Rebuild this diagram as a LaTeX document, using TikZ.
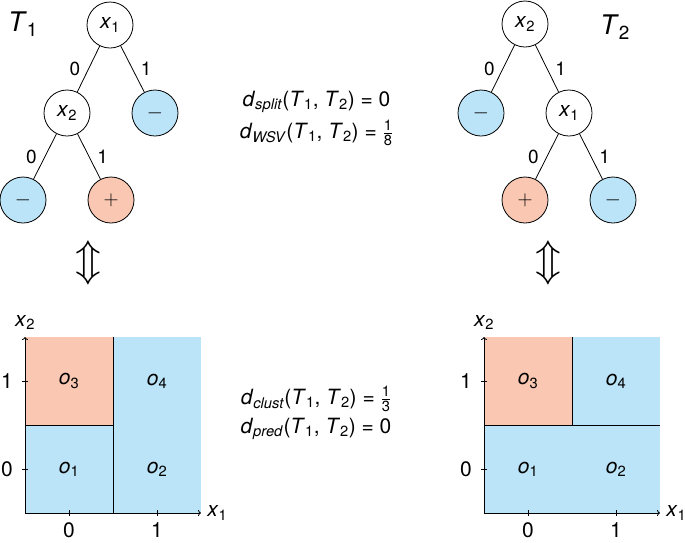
\documentclass[tikz,border=0pt]{standalone}
\usepackage{amsmath}
\usepackage{fontspec}
\setmainfont{TeX Gyre Heros}
\usetikzlibrary{positioning,arrows.meta}
\definecolor{negblue}{HTML}{BBE4F8}
\definecolor{pospink}{HTML}{F9C7B2}
\newcommand\ix[2]{\textit{#1}\textsubscript{#2}}
\newcommand\pair{(\ix{T}{1}, \ix{T}{2})}

\begin{document}
\begin{tikzpicture}[x=1pt, y=-1pt, line width=0.8pt,
  font=\fontsize{21}{25}\selectfont,
  vnode/.style={circle, draw, minimum size=46pt, inner sep=0pt, fill=white},
  nleaf/.style={vnode, fill=negblue},
  pleaf/.style={vnode, fill=pospink},
  elab/.style={inner sep=2pt, font=\fontsize{19}{22}\selectfont},
  tname/.style={font=\fontsize{27}{32}\selectfont},
  eqn/.style={inner sep=0pt},
  tlab/.style={inner sep=2pt},
  axis/.style={->, >={To[length=3pt, width=6pt]}},
  tick/.style={line width=0.6pt},
  equiv/.style={scale=1.7, font=\Huge},
]
\useasboundingbox (0,0) rectangle (685,542);

% ---------------- tree T1 ----------------
\node[tname] (t1) at (23,24) {\ix{T}{1}};
\node[vnode] (a1) at (110,25)  {\ix{x}{1}};
\node[vnode] (a2) at (67,113)  {\ix{x}{2}};
\node[nleaf] (a3) at (155,113) {$-$};
\node[nleaf] (a4) at (23,200)  {$-$};
\node[pleaf] (a5) at (111,200) {$+$};
\draw (a1) -- node[elab, left=6pt]  {0} (a2);
\draw (a1) -- node[elab, right=6pt] {1} (a3);
\draw (a2) -- node[elab, left=6pt]  {0} (a4);
\draw (a2) -- node[elab, right=6pt] {1} (a5);

% ---------------- tree T2 ----------------
\node[tname] (t2) at (615,27) {\ix{T}{2}};
\node[vnode] (b1) at (525,24)  {\ix{x}{2}};
\node[nleaf] (b2) at (481,113) {$-$};
\node[vnode] (b3) at (569,113) {\ix{x}{1}};
\node[pleaf] (b4) at (525,200) {$+$};
\node[nleaf] (b5) at (613,200) {$-$};
\draw (b1) -- node[elab, left=6pt]  {0} (b2);
\draw (b1) -- node[elab, right=6pt] {1} (b3);
\draw (b3) -- node[elab, left=6pt]  {0} (b4);
\draw (b3) -- node[elab, right=6pt] {1} (b5);

% distances between the trees
\node[eqn] (dsplit) at (316.5,102) {\ix{d}{\textit{split}}\pair{} = 0};
\node[eqn] (dwsv)   at (316.5,133) {\ix{d}{\textit{WSV}}\pair{} = $\frac{\text{1}}{\text{8}}$};

% tree <-> partition
\node[equiv] (eqv1) at (88,263)  {$\Updownarrow$};
\node[equiv] (eqv2) at (548,263) {$\Updownarrow$};

% ---------------- partition of T1 ----------------
\begin{scope}[shift={(69,469)}, x=88pt, y=88pt]
  \fill[negblue] (-0.5,-0.5) rectangle (1.5,1.5);
  \fill[pospink] (-0.5,0.5) rectangle (0.5,1.5);
  \draw (0.5,-0.5) -- (0.5,1.5);
  \draw (-0.5,0.5) -- (0.5,0.5);
  \coordinate (po) at (-0.5,-0.5);
  \coordinate (px) at (1.5,-0.5);
  \coordinate (py) at (-0.5,1.5);
  \draw[axis] (po) -- (px) node[tlab, right=4pt] (px1) {\ix{x}{1}};
  \draw[axis] (po) -- (py) node[tlab, above=5pt] (px2) {\ix{x}{2}};
  \draw[tick] ([yshift=3pt]0,-0.5) -- ([yshift=-3pt]0,-0.5) node[tlab, below=4pt] (pt0) {0};
  \draw[tick] ([yshift=3pt]1,-0.5) -- ([yshift=-3pt]1,-0.5) node[tlab, below=4pt] (pt1) {1};
  \draw[tick] ([xshift=3pt]-0.5,0) -- ([xshift=-3pt]-0.5,0) node[tlab, left=7pt] (ps0) {0};
  \draw[tick] ([xshift=3pt]-0.5,1) -- ([xshift=-3pt]-0.5,1) node[tlab, left=7pt] (ps1) {1};
  \node (po1) at (0,0) {\ix{o}{1}};
  \node (po2) at (1,0) {\ix{o}{2}};
  \node (po3) at (0,1) {\ix{o}{3}};
  \node (po4) at (1,1) {\ix{o}{4}};
\end{scope}

% ---------------- partition of T2 ----------------
\begin{scope}[shift={(528,469)}, x=88pt, y=88pt]
  \fill[negblue] (-0.5,-0.5) rectangle (1.5,1.5);
  \fill[pospink] (-0.5,0.5) rectangle (0.5,1.5);
  \draw (-0.5,0.5) -- (1.5,0.5);
  \draw (0.5,0.5) -- (0.5,1.5);
  \coordinate (qo) at (-0.5,-0.5);
  \coordinate (qx) at (1.5,-0.5);
  \coordinate (qy) at (-0.5,1.5);
  \draw[axis] (qo) -- (qx) node[tlab, right=4pt] (qx1) {\ix{x}{1}};
  \draw[axis] (qo) -- (qy) node[tlab, above=5pt] (qx2) {\ix{x}{2}};
  \draw[tick] ([yshift=3pt]0,-0.5) -- ([yshift=-3pt]0,-0.5) node[tlab, below=4pt] (qt0) {0};
  \draw[tick] ([yshift=3pt]1,-0.5) -- ([yshift=-3pt]1,-0.5) node[tlab, below=4pt] (qt1) {1};
  \draw[tick] ([xshift=3pt]-0.5,0) -- ([xshift=-3pt]-0.5,0) node[tlab, left=7pt] (qs0) {0};
  \draw[tick] ([xshift=3pt]-0.5,1) -- ([xshift=-3pt]-0.5,1) node[tlab, left=7pt] (qs1) {1};
  \node (qo1) at (0,0) {\ix{o}{1}};
  \node (qo2) at (1,0) {\ix{o}{2}};
  \node (qo3) at (0,1) {\ix{o}{3}};
  \node (qo4) at (1,1) {\ix{o}{4}};
\end{scope}

% distances between the partitions
\node[eqn] (dclust) at (316,399) {\ix{d}{\textit{clust}}\pair{} = $\frac{\text{1}}{\text{3}}$};
\node[eqn] (dpred)  at (316,429) {\ix{d}{\textit{pred}}\pair{} = 0};
\end{tikzpicture}
\end{document}
